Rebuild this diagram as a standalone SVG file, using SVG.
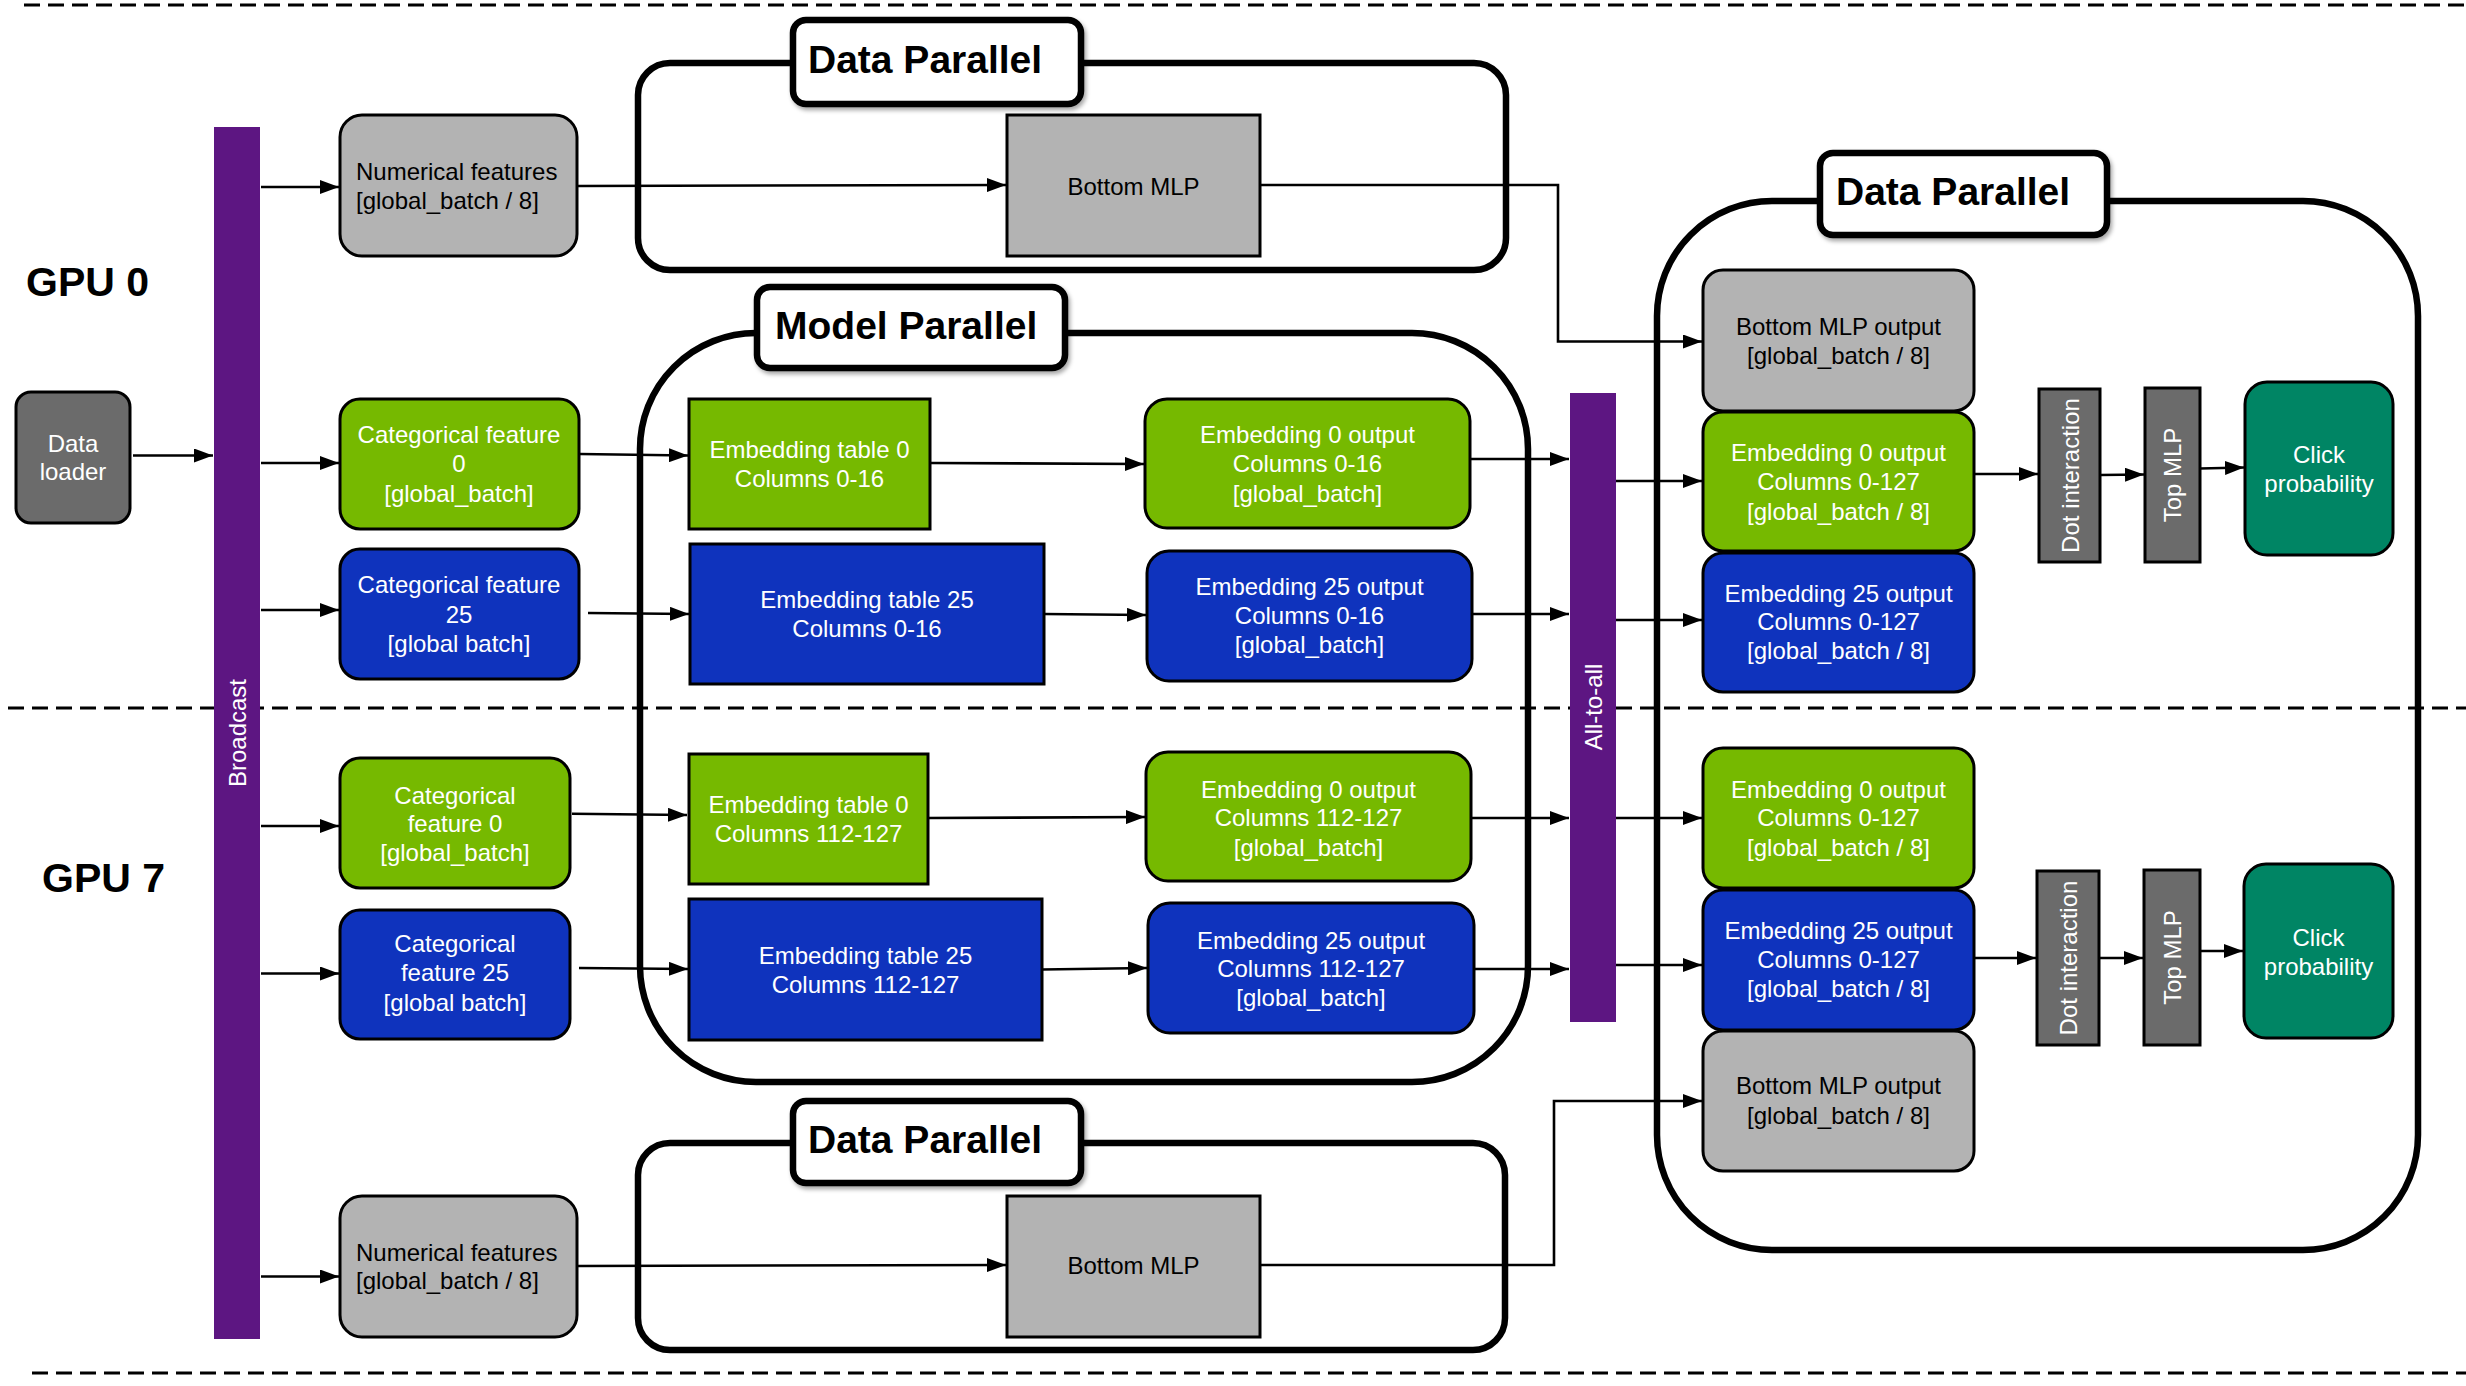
<svg xmlns="http://www.w3.org/2000/svg" width="2466" height="1386" viewBox="0 0 2466 1386">
<style>
text{font-family:"Liberation Sans",Arial,Helvetica,sans-serif;font-size:24px}
.c{text-anchor:middle}
.w{fill:#fff}
.k{fill:#000}
.title{font-size:39px;font-weight:bold;fill:#000}
.gpu{font-size:41px;font-weight:bold;fill:#000}
.dash{stroke:#000;stroke-width:3;stroke-dasharray:16 8;fill:none}
.cont{fill:none;stroke:#000;stroke-width:6.5}
.lab{fill:#fff;stroke:#000;stroke-width:6.5;filter:url(#sh)}
.n{stroke:#000;stroke-width:3}
.green{fill:#76b900}
.blue{fill:#0f33bd}
.gray{fill:#b3b3b3}
.dark{fill:#6b6b6b}
.teal{fill:#008564}
.purple{fill:#5d1682}
.conn path{fill:none;stroke:#000;stroke-width:2.6;marker-end:url(#ah)}
</style>
<defs>
<marker id="ah" markerUnits="userSpaceOnUse" markerWidth="20" markerHeight="14" refX="19" refY="7" orient="auto">
<path d="M0,0 L19,7 L0,14 z" fill="#000"/>
</marker>
<filter id="sh" x="-10%" y="-10%" width="125%" height="135%">
<feDropShadow dx="2" dy="3" stdDeviation="2" flood-color="#000" flood-opacity="0.35"/>
</filter>
</defs>
<rect width="2466" height="1386" fill="#fff"/>

<g id="separators">
<line class="dash" x1="24" y1="5" x2="2466" y2="5"/>
<line class="dash" x1="8" y1="708" x2="2466" y2="708"/>
<line class="dash" x1="32" y1="1373" x2="2466" y2="1373"/>
</g>

<g id="gpu-labels">
<text class="gpu" x="26" y="296">GPU 0</text>
<text class="gpu" x="42" y="892">GPU 7</text>
</g>

<g id="containers">
<rect id="dp-top-frame" class="cont" x="638" y="63" width="868" height="207" rx="32"/>
<rect id="mp-frame" class="cont" x="640" y="333" width="888" height="749" rx="116"/>
<rect id="dp-bottom-frame" class="cont" x="638" y="1143" width="867" height="207" rx="32"/>
<rect id="dp-right-frame" class="cont" x="1657" y="201" width="761" height="1049" rx="115"/>
</g>

<g id="connectors" class="conn">
<path d="M133,455.5 H213"/>
<path d="M261,187 H339"/>
<path d="M261,463 H339"/>
<path d="M261,610 H339"/>
<path d="M261,826 H339"/>
<path d="M261,973.5 H339"/>
<path d="M261,1276.5 H339"/>
<path d="M577,186 L1006,185"/>
<path d="M577,1266 L1006,1265"/>
<path d="M580,454 L688,455.5"/>
<path d="M588,613 L689,614"/>
<path d="M572,813.7 L687,815"/>
<path d="M579,968 L688,969"/>
<path d="M930,463 L1144,464"/>
<path d="M1044,614 L1146,615"/>
<path d="M928,818 L1145,817"/>
<path d="M1042,969.5 L1147,968"/>
<path d="M1470,459 H1569"/>
<path d="M1472,614 H1569"/>
<path d="M1471,818 H1569"/>
<path d="M1474,969 H1569"/>
<path d="M1616,481 H1702"/>
<path d="M1616,620 H1702"/>
<path d="M1616,818 H1702"/>
<path d="M1616,965 H1702"/>
<path d="M1260,185 H1558 V341.5 H1702"/>
<path d="M1260,1265 H1554 V1101 H1702"/>
<path d="M1974,474 H2038"/>
<path d="M2100,475 L2144,474.5"/>
<path d="M2200,468.5 L2244,467.5"/>
<path d="M1974,958 H2036"/>
<path d="M2099,958 H2143"/>
<path d="M2200,951 H2243"/>
</g>

<g id="data-loader">
<rect class="n dark" x="16" y="392" width="114" height="131" rx="15"/>
<text class="c w" x="73" y="451.7">Data</text>
<text class="c w" x="73" y="480">loader</text>
</g>

<g id="broadcast">
<rect class="purple" x="214" y="127" width="46" height="1212"/>
<text class="c w" transform="translate(237,733) rotate(-90)" x="0" y="8.5">Broadcast</text>
</g>

<g id="numerical-gpu0">
<rect class="n gray" x="340" y="115" width="237" height="141" rx="22"/>
<text class="k" x="356" y="180.4">Numerical features</text>
<text class="k" x="356" y="209">[global_batch / 8]</text>
</g>

<g id="cat0-gpu0">
<rect class="n green" x="340" y="399" width="239" height="130" rx="20"/>
<text class="c w" x="459" y="443.3">Categorical feature</text>
<text class="c w" x="459" y="472">0</text>
<text class="c w" x="459" y="501.7">[global_batch]</text>
</g>

<g id="cat25-gpu0">
<rect class="n blue" x="340" y="549" width="239" height="130" rx="20"/>
<text class="c w" x="459" y="593">Categorical feature</text>
<text class="c w" x="459" y="622.7">25</text>
<text class="c w" x="459" y="651.7">[global batch]</text>
</g>

<g id="cat0-gpu7">
<rect class="n green" x="340" y="758" width="230" height="130" rx="20"/>
<text class="c w" x="455" y="804">Categorical</text>
<text class="c w" x="455" y="832">feature 0</text>
<text class="c w" x="455" y="861">[global_batch]</text>
</g>

<g id="cat25-gpu7">
<rect class="n blue" x="340" y="910" width="230" height="129" rx="20"/>
<text class="c w" x="455" y="952">Categorical</text>
<text class="c w" x="455" y="981">feature 25</text>
<text class="c w" x="455" y="1011">[global batch]</text>
</g>

<g id="numerical-gpu7">
<rect class="n gray" x="340" y="1196" width="237" height="141" rx="22"/>
<text class="k" x="356" y="1261">Numerical features</text>
<text class="k" x="356" y="1289">[global_batch / 8]</text>
</g>

<g id="bottom-mlp-gpu0">
<rect class="n gray" x="1007" y="115" width="253" height="141"/>
<text class="c k" x="1133.5" y="194.6">Bottom MLP</text>
</g>

<g id="bottom-mlp-gpu7">
<rect class="n gray" x="1007" y="1196" width="253" height="141"/>
<text class="c k" x="1133.5" y="1274">Bottom MLP</text>
</g>

<g id="emb-table0-gpu0">
<rect class="n green" x="689" y="399" width="241" height="130"/>
<text class="c w" x="809.5" y="458.3">Embedding table 0</text>
<text class="c w" x="809.5" y="486.7">Columns 0-16</text>
</g>

<g id="emb-table25-gpu0">
<rect class="n blue" x="690" y="544" width="354" height="140"/>
<text class="c w" x="867" y="608.3">Embedding table 25</text>
<text class="c w" x="867" y="636.7">Columns 0-16</text>
</g>

<g id="emb0-out-gpu0">
<rect class="n green" x="1145" y="399" width="325" height="129" rx="22"/>
<text class="c w" x="1307.5" y="443.3">Embedding 0 output</text>
<text class="c w" x="1307.5" y="472.3">Columns 0-16</text>
<text class="c w" x="1307.5" y="501.7">[global_batch]</text>
</g>

<g id="emb25-out-gpu0">
<rect class="n blue" x="1147" y="551" width="325" height="130" rx="22"/>
<text class="c w" x="1309.5" y="595">Embedding 25 output</text>
<text class="c w" x="1309.5" y="624.3">Columns 0-16</text>
<text class="c w" x="1309.5" y="653.3">[global_batch]</text>
</g>

<g id="emb-table0-gpu7">
<rect class="n green" x="689" y="754" width="239" height="130"/>
<text class="c w" x="808.5" y="813">Embedding table 0</text>
<text class="c w" x="808.5" y="841.5">Columns 112-127</text>
</g>

<g id="emb-table25-gpu7">
<rect class="n blue" x="689" y="899" width="353" height="141"/>
<text class="c w" x="865.5" y="963.6">Embedding table 25</text>
<text class="c w" x="865.5" y="993">Columns 112-127</text>
</g>

<g id="emb0-out-gpu7">
<rect class="n green" x="1146" y="752" width="325" height="129" rx="22"/>
<text class="c w" x="1308.5" y="798">Embedding 0 output</text>
<text class="c w" x="1308.5" y="826">Columns 112-127</text>
<text class="c w" x="1308.5" y="855.6">[global_batch]</text>
</g>

<g id="emb25-out-gpu7">
<rect class="n blue" x="1148" y="903" width="326" height="130" rx="22"/>
<text class="c w" x="1311" y="949">Embedding 25 output</text>
<text class="c w" x="1311" y="977">Columns 112-127</text>
<text class="c w" x="1311" y="1006">[global_batch]</text>
</g>

<g id="all-to-all">
<rect class="purple" x="1570" y="393" width="46" height="629"/>
<text class="c w" transform="translate(1593,707) rotate(-90)" x="0" y="8.5">All-to-all</text>
</g>

<g id="bmlp-out-gpu0">
<rect class="n gray" x="1703" y="270" width="271" height="141" rx="20"/>
<text class="c k" x="1838.5" y="334.7">Bottom MLP output</text>
<text class="c k" x="1838.5" y="364">[global_batch / 8]</text>
</g>

<g id="emb0-all-gpu0">
<rect class="n green" x="1703" y="412" width="271" height="139" rx="20"/>
<text class="c w" x="1838.5" y="461">Embedding 0 output</text>
<text class="c w" x="1838.5" y="490">Columns 0-127</text>
<text class="c w" x="1838.5" y="519.6">[global_batch / 8]</text>
</g>

<g id="emb25-all-gpu0">
<rect class="n blue" x="1703" y="553" width="271" height="139" rx="20"/>
<text class="c w" x="1838.5" y="601.5">Embedding 25 output</text>
<text class="c w" x="1838.5" y="629.5">Columns 0-127</text>
<text class="c w" x="1838.5" y="659">[global_batch / 8]</text>
</g>

<g id="dot-gpu0">
<rect class="n dark" x="2039" y="389" width="61" height="173"/>
<text class="c w" transform="translate(2070,475.5) rotate(-90)" x="0" y="8.5">Dot interaction</text>
</g>

<g id="top-mlp-gpu0">
<rect class="n dark" x="2145" y="388" width="55" height="174"/>
<text class="c w" transform="translate(2172.5,475) rotate(-90)" x="0" y="8.5">Top MLP</text>
</g>

<g id="click-gpu0">
<rect class="n teal" x="2245" y="382" width="148" height="173" rx="22"/>
<text class="c w" x="2319" y="463">Click</text>
<text class="c w" x="2319" y="491.6">probability</text>
</g>

<g id="emb0-all-gpu7">
<rect class="n green" x="1703" y="748" width="271" height="140" rx="20"/>
<text class="c w" x="1838.5" y="798">Embedding 0 output</text>
<text class="c w" x="1838.5" y="826">Columns 0-127</text>
<text class="c w" x="1838.5" y="855.6">[global_batch / 8]</text>
</g>

<g id="emb25-all-gpu7">
<rect class="n blue" x="1703" y="890" width="271" height="140" rx="20"/>
<text class="c w" x="1838.5" y="939">Embedding 25 output</text>
<text class="c w" x="1838.5" y="968">Columns 0-127</text>
<text class="c w" x="1838.5" y="997">[global_batch / 8]</text>
</g>

<g id="bmlp-out-gpu7">
<rect class="n gray" x="1703" y="1031" width="271" height="140" rx="20"/>
<text class="c k" x="1838.5" y="1094">Bottom MLP output</text>
<text class="c k" x="1838.5" y="1123.5">[global_batch / 8]</text>
</g>

<g id="dot-gpu7">
<rect class="n dark" x="2037" y="871" width="62" height="174"/>
<text class="c w" transform="translate(2068,958) rotate(-90)" x="0" y="8.5">Dot interaction</text>
</g>

<g id="top-mlp-gpu7">
<rect class="n dark" x="2144" y="870" width="56" height="175"/>
<text class="c w" transform="translate(2172,957.5) rotate(-90)" x="0" y="8.5">Top MLP</text>
</g>

<g id="click-gpu7">
<rect class="n teal" x="2244" y="864" width="149" height="174" rx="22"/>
<text class="c w" x="2318.5" y="945.6">Click</text>
<text class="c w" x="2318.5" y="975">probability</text>
</g>

<g id="label-dp-top">
<rect class="lab" x="793" y="20" width="288" height="84" rx="13"/>
<text class="title" x="808" y="73">Data Parallel</text>
</g>

<g id="label-mp">
<rect class="lab" x="757" y="287" width="308" height="81" rx="13"/>
<text class="title" x="775" y="338.6">Model Parallel</text>
</g>

<g id="label-dp-bottom">
<rect class="lab" x="793" y="1101" width="288" height="82" rx="13"/>
<text class="title" x="808" y="1153">Data Parallel</text>
</g>

<g id="label-dp-right">
<rect class="lab" x="1820" y="153" width="287" height="82" rx="13"/>
<text class="title" x="1836" y="204.6">Data Parallel</text>
</g>
</svg>
